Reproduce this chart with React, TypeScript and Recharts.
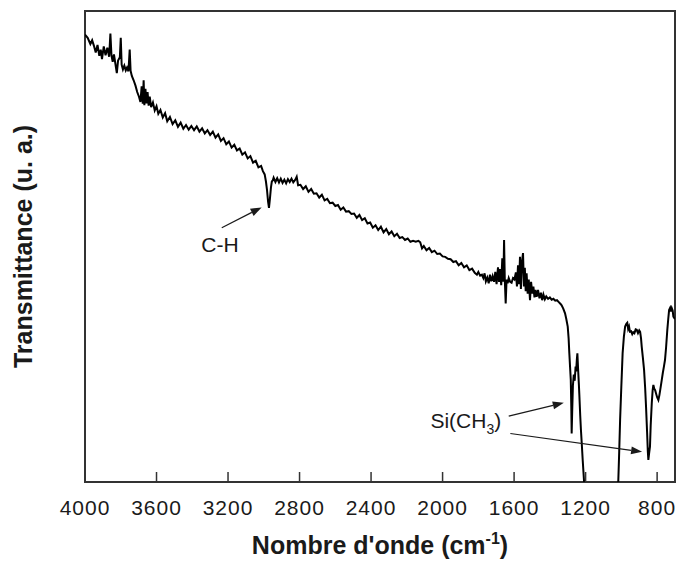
import React from "react";
import { LineChart, Line, XAxis, YAxis, ReferenceArea, ReferenceLine, ReferenceDot } from "recharts";

// FTIR spectrum (wavenumber in cm-1, transmittance in arbitrary units 0-100)
const wavenumbers = [
  4000, 3985, 3970, 3960, 3950, 3940, 3930, 3920, 3912, 3905, 3895, 3885, 3875, 3865, 3858, 3852, 3845, 3838,
  3830, 3822, 3815, 3805, 3800, 3795, 3788, 3780, 3772, 3765, 3757, 3750, 3745, 3738, 3728, 3718, 3708, 3698,
  3690, 3683, 3677, 3672, 3668, 3662, 3656, 3650, 3644, 3638, 3630, 3620, 3610, 3600, 3590, 3578, 3565, 3552,
  3540, 3525, 3510, 3495, 3480, 3465, 3450, 3435, 3420, 3405, 3390, 3375, 3360, 3345, 3330, 3315, 3300, 3285,
  3270, 3255, 3240, 3225, 3210, 3195, 3180, 3165, 3150, 3135, 3120, 3105, 3090, 3075, 3060, 3045, 3030, 3015,
  3005, 2995, 2988, 2982, 2976, 2971, 2966, 2960, 2955, 2950, 2945, 2935, 2925, 2915, 2905, 2895, 2885, 2875,
  2865, 2855, 2845, 2835, 2825, 2816, 2808, 2795, 2780, 2765, 2750, 2735, 2720, 2705, 2690, 2675, 2660, 2645,
  2630, 2615, 2600, 2585, 2570, 2555, 2540, 2525, 2510, 2495, 2480, 2465, 2450, 2435, 2420, 2405, 2390, 2375,
  2360, 2345, 2330, 2315, 2300, 2285, 2270, 2255, 2240, 2225, 2210, 2195, 2180, 2165, 2150, 2135, 2125, 2115,
  2105, 2090, 2075, 2060, 2045, 2030, 2015, 2000, 1985, 1970, 1955, 1940, 1925, 1910, 1895, 1880, 1865, 1850,
  1835, 1820, 1808, 1800, 1790, 1780, 1772, 1765, 1758, 1750, 1742, 1735, 1728, 1720, 1712, 1705, 1698, 1690,
  1684, 1678, 1672, 1666, 1660, 1656, 1652, 1647, 1642, 1636, 1630, 1622, 1614, 1606, 1598, 1590, 1584, 1578,
  1572, 1567, 1562, 1556, 1550, 1545, 1540, 1535, 1530, 1524, 1518, 1511, 1505, 1498, 1492, 1486, 1480, 1474,
  1466, 1458, 1450, 1443, 1436, 1428, 1420, 1410, 1400, 1390, 1380, 1370, 1360, 1350, 1340, 1334, 1325, 1315,
  1308, 1300, 1295, 1291, 1287, 1283, 1280, 1278, 1275, 1271, 1266, 1261, 1256, 1253, 1249, 1246, 1242, 1238,
  1235, 1230, 1226, 1222, 1216, 1209, 1195, 1030, 1017, 1012, 1007, 1000, 993, 986, 979, 972, 967, 962,
  957, 952, 945, 939, 933, 927, 920, 914, 907, 900, 895, 890, 886, 880, 873, 867, 862, 856,
  852, 849, 845, 840, 836, 830, 825, 821, 816, 811, 806, 800, 793, 787, 780, 774, 768, 762,
  756, 750, 743, 738, 733, 727, 722, 718, 713, 709, 704, 700,
];

const transmittance = [
  95.0, 94.3, 93.0, 93.8, 92.6, 91.2, 92.8, 90.5, 91.8, 89.8, 92.5, 90.6, 92.2, 90.3, 95.2, 90.6, 89.2, 90.8,
  88.8, 86.8, 89.5, 90.2, 94.3, 88.6, 87.6, 88.4, 87.4, 88.0, 87.2, 91.8, 87.3, 86.2, 85.3, 84.2, 82.8, 81.8,
  80.7, 84.0, 80.3, 85.3, 80.0, 83.5, 80.4, 82.8, 79.9, 81.8, 79.6, 80.6, 78.9, 79.8, 78.2, 79.0, 77.4, 78.3,
  76.6, 77.5, 76.0, 76.8, 75.4, 76.3, 75.0, 75.8, 74.8, 75.6, 74.7, 75.5, 74.4, 75.1, 74.0, 74.7, 73.7, 74.4,
  73.1, 73.8, 72.4, 73.0, 71.7, 72.3, 71.0, 71.6, 70.4, 70.8, 69.5, 70.0, 68.7, 69.2, 67.8, 68.2, 66.8, 67.1,
  66.0, 65.3, 63.8, 62.0, 59.5, 58.2, 60.0, 62.5, 63.8, 64.0, 64.6, 63.7, 64.5, 63.6, 64.4, 63.5, 64.2, 63.4,
  64.3, 63.7, 64.4, 63.6, 64.1, 64.8, 63.0, 63.1, 62.2, 62.8, 61.6, 62.2, 61.2, 61.3, 60.4, 61.0, 59.8, 60.1,
  59.2, 59.3, 58.6, 58.8, 57.8, 58.3, 57.4, 57.5, 56.9, 57.0, 56.1, 56.7, 55.6, 56.0, 54.9, 55.1, 54.0, 54.5,
  53.5, 54.2, 53.0, 53.7, 52.6, 53.2, 52.2, 52.7, 51.8, 52.0, 51.4, 51.7, 51.0, 51.2, 51.0, 51.2, 50.9, 49.6,
  50.1, 49.2, 49.7, 48.8, 49.1, 48.4, 48.5, 47.9, 47.8, 47.4, 47.3, 46.7, 46.9, 46.0, 46.5, 45.6, 46.0, 45.0,
  45.3, 44.4, 44.0, 44.6, 43.8, 44.0, 43.3, 44.3, 42.6, 43.4, 42.2, 44.0, 42.6, 43.7, 42.5, 44.6, 42.0, 45.6,
  42.5, 45.2, 41.8, 47.5, 42.5, 51.4, 43.0, 37.9, 43.0, 42.2, 43.3, 42.5, 42.3, 43.3, 43.0, 44.5, 41.5, 46.0,
  42.0, 47.8, 41.0, 46.8, 48.6, 41.5, 45.5, 40.5, 44.3, 40.0, 43.0, 38.6, 42.5, 40.0, 41.5, 39.2, 40.8, 39.3,
  40.8, 39.0, 40.2, 38.6, 39.8, 38.8, 39.4, 38.9, 39.2, 38.7, 38.9, 38.5, 38.6, 38.2, 37.8, 37.5, 36.8, 35.8,
  34.6, 33.0, 30.5, 27.3, 24.5, 21.7, 16.0, 10.3, 15.0, 20.5, 22.8, 21.5, 24.5, 23.5, 26.0, 27.3, 24.0, 21.0,
  18.5, 14.0, 11.0, 8.5, 4.5, 0.3, -8, -8, 0.4, 6.5, 13.2, 20.5, 27.3, 30.8, 33.0, 33.6, 33.8, 32.5,
  33.0, 31.9, 32.0, 31.4, 31.8, 31.6, 32.4, 32.3, 31.6, 32.2, 31.9, 30.5, 28.7, 26.5, 23.8, 20.0, 16.0, 10.5,
  6.5, 4.7, 6.0, 7.5, 12.0, 16.7, 19.5, 20.6, 19.8, 19.5, 18.8, 18.0, 17.4, 18.5, 20.2, 21.7, 23.2, 24.5,
  25.9, 28.5, 32.3, 34.5, 36.5, 37.0, 36.2, 36.9, 36.4, 35.1, 34.8, 35.0,
];

const xTicks = [4000, 3600, 3200, 2800, 2400, 2000, 1600, 1200, 800];

const data = wavenumbers.map((wn, i) => ({ wn, t: transmittance[i] }));

const FONT = "Arial, 'Liberation Sans', sans-serif";
const INK = "#1a1a1a";

const BottomTick = (props: any) => {
  const { x, y, payload } = props;
  return (
    <g>
      <line x1={x} y1={y} x2={x} y2={y - 10} stroke="#333" strokeWidth={1.5} />
      <text x={x} y={y + 33} textAnchor="middle" fontFamily={FONT} fontSize={21} letterSpacing={1} fill={INK}>
        {payload.value}
      </text>
    </g>
  );
};

const Arrow = (props: any) => {
  const { x1, y1, x2, y2 } = props;
  const a = Math.atan2(y2 - y1, x2 - x1);
  const len = 11;
  const half = 4;
  const bx = x2 - len * Math.cos(a);
  const by = y2 - len * Math.sin(a);
  const px = -Math.sin(a) * half;
  const py = Math.cos(a) * half;
  return (
    <g>
      <line x1={x1} y1={y1} x2={bx} y2={by} stroke={INK} strokeWidth={1.2} />
      <polygon points={`${x2},${y2} ${bx + px},${by + py} ${bx - px},${by - py}`} fill={INK} />
    </g>
  );
};

export default function App() {
  return (
    <div style={{ position: "absolute", left: 0, top: 0, background: "#fff" }}>
      <LineChart width={677} height={561} data={data} margin={{ top: 11, right: 2, bottom: 0, left: 0 }}>
        <XAxis
          dataKey="wn"
          type="number"
          domain={[700, 4000]}
          reversed
          allowDataOverflow
          ticks={xTicks}
          interval={0}
          height={79}
          tickSize={0}
          tickMargin={0}
          tickLine={false}
          axisLine={false}
          tick={<BottomTick />}
          label={{
            content: (p: any) => {
              const vb = p.viewBox;
              return (
                <text x={vb.x + vb.width / 2} y={vb.y + 72} textAnchor="middle" fontFamily={FONT} fontSize={25} fontWeight="bold" fill={INK}>
                  Nombre d'onde (cm
                  <tspan fontSize={16} dy={-10}>-1</tspan>
                  <tspan dy={10}>)</tspan>
                </text>
              );
            },
          }}
        />
        <YAxis
          type="number"
          domain={[0, 100]}
          allowDataOverflow
          width={85}
          tick={false}
          tickLine={false}
          axisLine={false}
          label={{
            content: (p: any) => {
              const vb = p.viewBox;
              const cy = vb.y + vb.height / 2;
              return (
                <text x={32} y={cy} transform={`rotate(-90, 32, ${cy})`} textAnchor="middle" fontFamily={FONT} fontSize={25} fontWeight="bold" fill={INK}>
                  Transmittance (u. a.)
                </text>
              );
            },
          }}
        />
        <ReferenceArea x1={4000} x2={700} y1={0} y2={100} fill="none" stroke="#333" strokeWidth={2} />
        <Line dataKey="t" stroke="#000" strokeWidth={2} dot={false} type="linear" isAnimationActive={false} />
        <ReferenceLine segment={[{ x: 3235, y: 54 }, { x: 3012, y: 58.3 }]} shape={Arrow} />
        <ReferenceLine segment={[{ x: 1630, y: 14 }, { x: 1322, y: 16.8 }]} shape={Arrow} />
        <ReferenceLine segment={[{ x: 1621, y: 10.3 }, { x: 884, y: 6.4 }]} shape={Arrow} />
        <ReferenceDot
          x={3245}
          y={48.9}
          shape={(p: any) => (
            <text x={p.cx} y={p.cy} textAnchor="middle" fontFamily={FONT} fontSize={21} fill={INK}>
              C-H
            </text>
          )}
        />
        <ReferenceDot
          x={2068}
          y={11.4}
          shape={(p: any) => (
            <text x={p.cx} y={p.cy} textAnchor="start" fontFamily={FONT} fontSize={21} fill={INK}>
              Si(CH
              <tspan fontSize={14} dy={6}>3</tspan>
              <tspan dy={-6}>)</tspan>
            </text>
          )}
        />
      </LineChart>
    </div>
  );
}
